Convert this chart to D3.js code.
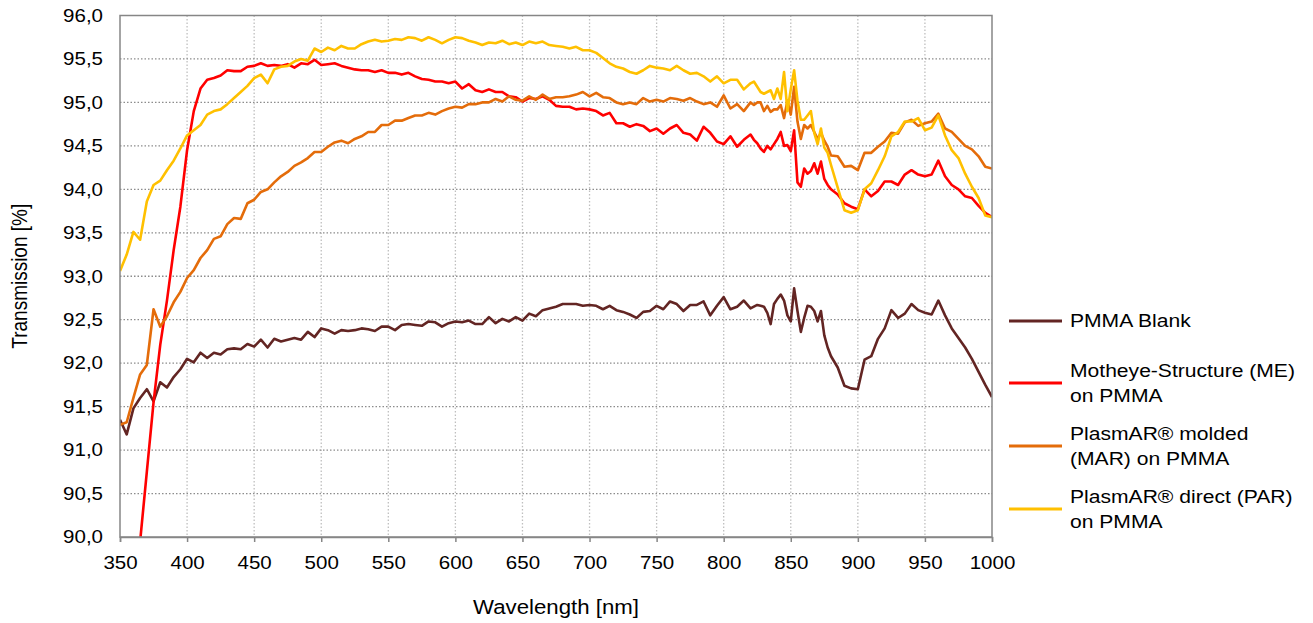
<!DOCTYPE html>
<html>
<head>
<meta charset="utf-8">
<script src="https://cdn.jsdelivr.net/npm/d3@7"></script>
<style>
  body { margin: 0; background: #fff; }
  text { font-family: "Liberation Sans", Arial, sans-serif; fill: #000; }
</style>
</head>
<body>
<svg id="chart"></svg>
<script>
// wavelength grid [nm] (finer around the detector change near 850 nm)
var wavelengths = [
  350,355,360,365,370,375,380,385,390,395,400,405,410,415,420,425,430,435,440,445,
  450,455,460,465,470,475,480,485,490,495,500,505,510,515,520,525,530,535,540,545,
  550,555,560,565,570,575,580,585,590,595,600,605,610,615,620,625,630,635,640,645,
  650,655,660,665,670,675,680,685,690,695,700,705,710,715,720,725,730,735,740,745,
  750,755,760,765,770,775,780,785,790,795,800,805,810,815,
  820,822.5,825,827.5,830,832.5,835,837.5,840,842.5,845,847.5,850,852.5,855,857.5,
  860,862.5,865,867.5,870,872.5,875,877.5,880,
  885,890,895,900,905,910,915,920,925,930,935,940,945,950,955,960,965,970,975,980,
  985,990,995,1000
];

// transmission [%]
var pmmaBlank = [
  91.35,91.18,91.48,91.60,91.70,91.56,91.78,91.72,91.84,91.93,92.05,92.01,92.12,92.06,92.12,92.10,92.16,92.17,92.16,92.22,
  92.19,92.27,92.18,92.28,92.25,92.27,92.29,92.27,92.36,92.30,92.40,92.38,92.34,92.38,92.37,92.38,92.40,92.39,92.37,92.42,
  92.42,92.38,92.44,92.45,92.44,92.43,92.48,92.47,92.42,92.46,92.48,92.47,92.49,92.45,92.45,92.53,92.46,92.51,92.48,92.53,
  92.49,92.57,92.54,92.61,92.63,92.65,92.68,92.68,92.68,92.66,92.67,92.66,92.62,92.66,92.61,92.59,92.56,92.52,92.59,92.60,
  92.66,92.62,92.71,92.68,92.60,92.67,92.67,92.71,92.55,92.66,92.76,92.62,92.65,92.72,
  92.63,92.65,92.67,92.66,92.65,92.58,92.45,92.68,92.74,92.79,92.72,92.55,92.48,92.86,92.60,92.36,
  92.52,92.66,92.65,92.60,92.48,92.60,92.32,92.18,92.08,
  91.95,91.74,91.71,91.70,92.04,92.08,92.28,92.40,92.61,92.52,92.57,92.68,92.61,92.58,92.56,92.72,92.55,92.40,92.29,92.18,
  92.05,91.90,91.75,91.61
];

var motheyeME = [
  null,null,89.20,89.95,90.75,91.55,92.21,92.72,93.30,93.80,94.45,94.90,95.16,95.26,95.28,95.31,95.37,95.36,95.36,95.41,
  95.42,95.45,95.42,95.43,95.42,95.44,95.40,95.45,95.44,95.49,95.43,95.44,95.45,95.42,95.40,95.38,95.37,95.37,95.35,95.37,
  95.34,95.34,95.32,95.34,95.30,95.27,95.26,95.24,95.24,95.22,95.24,95.16,95.21,95.14,95.12,95.15,95.12,95.12,95.07,95.06,
  95.01,95.05,95.04,95.07,95.03,94.96,94.95,94.95,94.92,94.93,94.92,94.90,94.85,94.88,94.76,94.76,94.72,94.75,94.73,94.67,
  94.70,94.64,94.70,94.74,94.65,94.63,94.56,94.72,94.65,94.55,94.52,94.61,94.49,94.57,
  94.63,94.57,94.53,94.47,94.43,94.50,94.46,94.52,94.58,94.66,94.50,94.51,94.44,94.68,94.08,94.03,
  94.24,94.18,94.21,94.30,94.18,94.32,94.12,94.05,94.00,
  93.94,93.84,93.80,93.77,94.00,93.92,93.98,94.09,94.09,94.05,94.17,94.22,94.17,94.15,94.17,94.33,94.15,94.05,94.00,93.92,
  93.90,93.81,93.73,93.68
];

var plasmarMolded = [
  91.29,91.32,91.60,91.87,91.98,92.62,92.42,92.54,92.70,92.82,92.98,93.07,93.21,93.30,93.43,93.46,93.60,93.67,93.66,93.84,
  93.88,93.97,94.00,94.08,94.15,94.20,94.27,94.31,94.36,94.43,94.43,94.49,94.54,94.56,94.53,94.58,94.61,94.66,94.66,94.74,
  94.74,94.79,94.79,94.82,94.85,94.85,94.88,94.86,94.90,94.93,94.95,94.94,94.98,94.98,95.00,95.00,95.04,95.01,95.07,95.03,
  95.02,95.07,95.03,95.09,95.04,95.06,95.06,95.07,95.09,95.12,95.07,95.11,95.06,95.05,95.00,94.98,95.00,94.98,95.05,95.01,
  95.03,95.01,95.05,95.04,95.02,95.05,95.01,94.98,95.00,94.95,95.08,94.93,94.98,94.90,
  95.00,94.97,95.00,95.00,94.90,94.96,94.89,94.92,94.92,94.97,94.82,95.02,94.86,95.18,94.78,94.58,
  94.74,94.70,94.74,94.66,94.58,94.65,94.56,94.49,94.39,
  94.38,94.26,94.27,94.22,94.42,94.42,94.49,94.55,94.65,94.64,94.77,94.80,94.73,94.76,94.78,94.87,94.70,94.66,94.58,94.50,
  94.46,94.38,94.26,94.24
];

var plasmarDirect = [
  93.06,93.25,93.51,93.42,93.86,94.05,94.10,94.22,94.33,94.47,94.62,94.68,94.74,94.86,94.90,94.92,94.98,95.05,95.12,95.19,
  95.28,95.32,95.22,95.38,95.41,95.42,95.47,95.50,95.48,95.62,95.58,95.63,95.60,95.65,95.62,95.62,95.67,95.70,95.72,95.70,
  95.71,95.73,95.72,95.75,95.74,95.71,95.75,95.72,95.68,95.72,95.75,95.74,95.71,95.69,95.66,95.69,95.68,95.71,95.67,95.69,
  95.66,95.70,95.68,95.70,95.66,95.65,95.64,95.62,95.64,95.60,95.60,95.57,95.51,95.45,95.41,95.39,95.35,95.33,95.37,95.42,
  95.40,95.39,95.37,95.42,95.37,95.33,95.34,95.30,95.24,95.30,95.22,95.26,95.26,95.15,
  95.22,95.24,95.18,95.12,95.10,95.12,95.14,95.04,95.16,95.04,95.35,94.90,95.15,95.37,95.02,94.80,
  94.80,94.85,94.90,94.65,94.52,94.70,94.48,94.42,94.28,
  94.02,93.76,93.73,93.76,94.00,94.07,94.22,94.38,94.61,94.66,94.78,94.78,94.82,94.68,94.71,94.85,94.62,94.45,94.36,94.18,
  94.03,93.90,93.70,93.68
];

var seriesNames = [
  ["PMMA Blank"],
  ["Motheye-Structure (ME)", "on PMMA"],
  ["PlasmAR\u00ae molded", "(MAR) on PMMA"],
  ["PlasmAR\u00ae direct (PAR)", "on PMMA"]
];
var seriesValues = [pmmaBlank, motheyeME, plasmarMolded, plasmarDirect];
var seriesColors = ["#632523", "#ff0000", "#e46c0a", "#ffc000"];

var xTicks = [350,400,450,500,550,600,650,700,750,800,850,900,950,1000];
var yTicks = [90,90.5,91,91.5,92,92.5,93,93.5,94,94.5,95,95.5,96];

var width = 1313, height = 623;
var plotL = 120, plotR = 992, plotT = 15.5, plotB = 537;
var stretch = 1.14; // the reference text is a bit wider than plain Arial

var svg = d3.select('#chart')
  .attr('width', width)
  .attr('height', height);

var x = d3.scaleLinear().domain([350, 1000]).range([plotL, plotR]);
var y = d3.scaleLinear().domain([90, 96]).range([plotB, plotT]);

var fmt = function (v) { return d3.format('.1f')(v).replace('.', ','); };

svg.append('defs').append('clipPath').attr('id', 'plot')
  .append('rect')
  .attr('x', plotL).attr('y', plotT)
  .attr('width', plotR - plotL).attr('height', plotB - plotT);

// grid lines
svg.append('g').selectAll('line')
  .data(xTicks.slice(1, -1))
  .enter().append('line')
  .attr('x1', function (d) { return x(d); })
  .attr('x2', function (d) { return x(d); })
  .attr('y1', plotT).attr('y2', plotB)
  .style('stroke', '#bfbfbf')
  .style('stroke-width', 1.3)
  .style('stroke-dasharray', '1.5,2');

svg.append('g').selectAll('line')
  .data(yTicks.slice(1, -1))
  .enter().append('line')
  .attr('x1', plotL).attr('x2', plotR)
  .attr('y1', function (d) { return y(d); })
  .attr('y2', function (d) { return y(d); })
  .style('stroke', '#8c8c8c')
  .style('stroke-width', 1.3)
  .style('stroke-dasharray', '1.5,2');

// curves
var line = d3.line()
  .defined(function (d) { return d[1] != null; })
  .x(function (d) { return x(d[0]); })
  .y(function (d) { return y(d[1]); });

svg.append('g').attr('clip-path', 'url(#plot)')
  .selectAll('path')
  .data(seriesValues)
  .enter().append('path')
  .attr('d', function (vals) {
    return line(wavelengths.map(function (w, i) { return [w, vals[i]]; }));
  })
  .style('fill', 'none')
  .style('stroke', function (d, i) { return seriesColors[i]; })
  .style('stroke-width', 2.6)
  .style('stroke-linejoin', 'round');

// frame
svg.append('rect')
  .attr('x', plotL).attr('y', plotT)
  .attr('width', plotR - plotL).attr('height', plotB - plotT)
  .style('fill', 'none')
  .style('stroke', '#868686')
  .style('stroke-width', 1.5);

// x axis
var xAxis = svg.append('g')
  .attr('transform', 'translate(0,' + plotB + ')')
  .call(d3.axisBottom(x).tickValues(xTicks).tickSize(5).tickPadding(14).tickFormat(d3.format('d')));
xAxis.select('.domain').style('stroke', '#868686').style('stroke-width', 1.5);
xAxis.selectAll('.tick line').style('stroke', '#868686').style('stroke-width', 1.5);
xAxis.selectAll('text')
  .style('font-size', '18px')
  .style('font-family', '"Liberation Sans", Arial, sans-serif')
  .attr('fill', '#000')
  .attr('transform', 'scale(' + stretch + ',1)');

// y axis
var yAxis = svg.append('g')
  .attr('transform', 'translate(' + plotL + ',0)')
  .call(d3.axisLeft(y).tickValues(yTicks).tickSize(0).tickPadding(17 / stretch).tickFormat(fmt));
yAxis.select('.domain').remove();
yAxis.selectAll('text')
  .style('font-size', '18px')
  .style('font-family', '"Liberation Sans", Arial, sans-serif')
  .attr('fill', '#000')
  .attr('transform', 'scale(' + stretch + ',1)');

// axis titles
svg.append('text')
  .attr('transform', 'translate(' + ((plotL + plotR) / 2) + ',614) scale(' + stretch + ',1)')
  .attr('text-anchor', 'middle')
  .style('font-size', '19.5px')
  .text('Wavelength [nm]');

svg.append('text')
  .attr('transform', 'translate(27,' + ((plotT + plotB) / 2) + ') rotate(-90) scale(1,' + stretch + ')')
  .attr('text-anchor', 'middle')
  .style('font-size', '19px')
  .text('Transmission [%]');

// legend
var legendY = [321, 383, 446, 509];
var legend = svg.append('g').selectAll('g')
  .data(seriesNames)
  .enter().append('g')
  .attr('transform', function (d, i) { return 'translate(1009,' + legendY[i] + ')'; });

legend.append('line')
  .attr('x1', 0).attr('x2', 53)
  .style('stroke', function (d, i) { return seriesColors[i]; })
  .style('stroke-width', 3);

legend.each(function (lines) {
  var g = d3.select(this);
  var off = -(lines.length - 1) * 12.5;
  lines.forEach(function (t, k) {
    g.append('text')
      .attr('transform', 'translate(61,' + (off + k * 25) + ') scale(' + stretch + ',1)')
      .attr('dy', '0.35em')
      .style('font-size', '18.5px')
      .text(t);
  });
});
</script>
</body>
</html>
